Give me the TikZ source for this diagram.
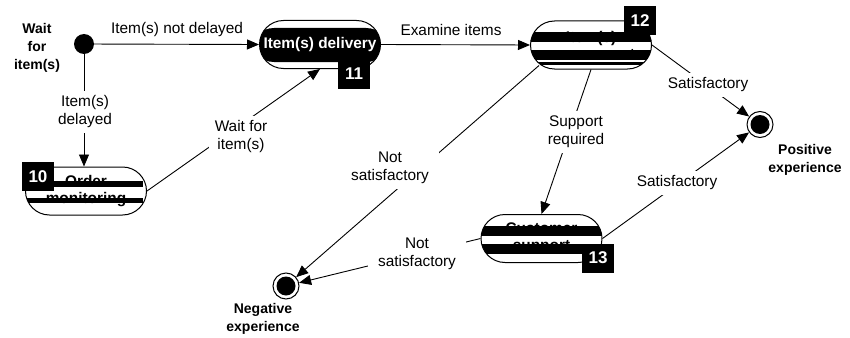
\documentclass[tikz,border=0pt]{standalone}
\usepackage{fontspec}
\setmainfont{Liberation Sans}
\usetikzlibrary{arrows.meta,calc}

\begin{document}
\begin{tikzpicture}[x=1pt,y=-1pt,
  every node/.style={font=\fontsize{15.4}{18}\selectfont, inner sep=0pt},
  txt/.style={align=center},
  boldtxt/.style={align=center, font=\fontsize{14}{18}\selectfont\bfseries},
  lbl/.style={fill=white, align=center, inner xsep=6pt, inner ysep=5pt},
  state/.style={draw, line width=1pt, fill=white, rounded corners=24pt,
    minimum width=121pt, minimum height=48pt, align=center,
    font=\fontsize{15.4}{17}\selectfont\bfseries},
  badge/.style={fill=black, text=white, minimum width=32pt, minimum height=29pt,
    font=\fontsize{17}{17}\selectfont\bfseries},
  init/.style={circle, fill=black, minimum size=20pt},
  final/.style={circle, draw, line width=1pt, fill=white, minimum size=26pt,
    path picture={\fill[black] (path picture bounding box.center) circle (9.5pt);}},
  conn/.style={line width=0.9pt, -{Triangle[length=12pt,width=10pt]}},
  bar/.style={fill=black}
]
\fill[white] (0,0) rectangle (850,337);
\useasboundingbox (0,0) rectangle (850,337);

% start and end points
\node[init] (init) at (84,44) {};
\node[boldtxt] (waitlbl) at (37,48) {Wait\\for\\item(s)};
\node[final] (pos) at (760,124.5) {};
\node[final] (neg) at (286,286) {};
\node[boldtxt] (poslbl) at (805,160) {Positive\\experience};
\node[boldtxt] (neglbl) at (263,319) {Negative\\experience};

% states
\node[state] (s10) at (86,191) {Order\\monitoring};
\node[state, text=white,
  path picture={\fill[black] (path picture bounding box.center) ++(-70,-16.5) rectangle ++(140,34);}]
  (s11) at (320,44.5) {Item(s) delivery};
\node[state] (s12) at (591,45) {Item(s)\\assessment};
\node[state] (s13) at (541.5,238.5) {Customer\\support};

% bars across the state texts
\begin{scope}[shift={(s10)}]
  \clip[rounded corners=24pt] (-60.5,-24) rectangle (60.5,24);
  \fill[bar] (-61,-10) rectangle (57,-4);
  \fill[bar] (-61,7) rectangle (57,12);
\end{scope}
\begin{scope}[shift={(s12)}]
  \clip[rounded corners=24pt] (-60.5,-24) rectangle (60.5,24);
  \fill[bar] (-61,-13) rectangle (61,-3);
  \fill[bar] (-61,5.5) rectangle (61,14.5);
  \fill[bar] (-61,16.5) rectangle (61,20);
\end{scope}
\begin{scope}[shift={(s13)}]
  \clip[rounded corners=24pt] (-60.5,-24) rectangle (60.5,24);
  \fill[bar] (-61,-12.5) rectangle (61,-2.5);
  \fill[bar] (-61,5.5) rectangle (61,15.5);
\end{scope}

% transitions
\draw[conn] (init) -- (s11.west);
\draw[conn] (init) -- (init |- s10.north);
\draw[conn] (s10.east) -- (s11.south);
\draw[conn] (s11.east) -- (s12.west);
\draw[conn] (s12.east) -- (pos);
\draw[conn] ([shift={(9,-4)}]s12.south west) -- (neg);
\draw[conn] (s12.south) -- (s13.north);
\draw[conn] (s13.east) -- (pos);
\draw[conn] (s13.west) -- (neg);

% transition labels
\node[txt] (t1) at (177,30) {Item(s) not delayed};
\node[lbl] (t2) at (85,112) {Item(s)\\delayed};
\node[lbl] (t3) at (241,137) {Wait for\\item(s)};
\node[txt] (t4) at (451,30) {Examine items};
\node[lbl] (t5) at (708,85) {Satisfactory};
\node[lbl, inner xsep=10pt] (t6) at (390,168) {Not\\satisfactory};
\node[lbl] (t7) at (576,132) {Support\\required};
\node[lbl] (t8) at (677,183) {Satisfactory};
\node[lbl, inner xsep=10pt] (t9) at (417,254) {Not\\satisfactory};

% state numbers
\node[badge] (b10) at (38,176.5) {10};
\node[badge] (b11) at (354,74) {11};
\node[badge] (b12) at (640,21) {12};
\node[badge] (b13) at (598,258) {13};
\end{tikzpicture}
\end{document}
